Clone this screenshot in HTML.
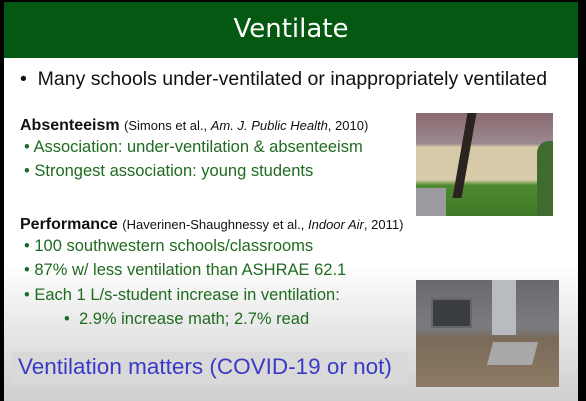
<!DOCTYPE html>
<html><head><meta charset="utf-8"><style>
body{margin:0;width:586px;height:401px;background:#000;overflow:hidden;font-family:"Liberation Sans",sans-serif;position:relative}
.slide{position:absolute;left:4px;top:2px;width:574px;height:399px;background:linear-gradient(#fff 0,#fff 262px,#e6e6e6 330px,#cfcfcf 399px)}
.hdr{position:absolute;left:0;top:0;width:574px;height:56px;background:#055812;color:#fff;font-size:26px;text-align:center;line-height:54px;font-family:"DejaVu Sans","Liberation Sans",sans-serif}
.t{position:absolute;white-space:nowrap;color:#111}
.g{color:#1f6b1f;font-size:16.5px}
.ph{position:absolute;overflow:hidden}
</style></head><body>
<div class="slide">
<div class="hdr">Ventilate</div>
<div class="t" style="left:16px;top:66px;font-size:19.5px">•&nbsp;&nbsp;Many schools under-ventilated or inappropriately ventilated</div>
<div class="t" style="left:16px;top:115px;font-size:16px"><b>Absenteeism</b> <span style="font-size:13px">(Simons et al., <i>Am. J. Public Health</i>, 2010)</span></div>
<div class="t g" style="left:20px;top:136px">• Association: under-ventilation &amp; absenteeism</div>
<div class="t g" style="left:20px;top:160px">• Strongest association: young students</div>
<div class="t" style="left:16px;top:214px;font-size:16px"><b>Performance</b> <span style="font-size:13px">(Haverinen-Shaughnessy et al., <i>Indoor Air</i>, 2011)</span></div>
<div class="t g" style="left:20px;top:235px">• 100 southwestern schools/classrooms</div>
<div class="t g" style="left:20px;top:259px">• 87% w/ less ventilation than ASHRAE 62.1</div>
<div class="t g" style="left:20px;top:284px">• Each 1 L/s-student increase in ventilation:</div>
<div class="t g" style="left:60px;top:308px">•&nbsp;&nbsp;2.9% increase math; 2.7% read</div>
<div style="position:absolute;left:8px;top:350px;width:396px;height:33px;background:#d9d9d9"></div>
<div class="t" style="left:14px;top:352px;font-size:22.5px;color:#3a3ac8">Ventilation matters (COVID-19 or not)</div>
<div class="ph" style="left:412px;top:111px;width:137px;height:103px;background:linear-gradient(#8a6a70 0,#9a8a90 30%,#d6c9a8 33%,#d8ccaa 65%,#4f8a30 70%,#3f7a28 100%)">
<div style="position:absolute;left:0;top:75px;width:30px;height:28px;background:#9a9aa0"></div>
<div style="position:absolute;left:44px;top:0;width:9px;height:85px;background:#2a2320;transform:skewX(-10deg)"></div>
<div style="position:absolute;right:0;top:28px;width:16px;height:75px;background:#3f6b2f;border-radius:12px 0 0 0"></div>
</div>
<div class="ph" style="left:412px;top:278px;width:143px;height:107px;background:linear-gradient(#6a6a6e 0,#7b7b80 45%,#7a6a58 55%,#8c7a64 100%)">
<div style="position:absolute;left:15px;top:18px;width:37px;height:26px;background:#3a3d42;border:2px solid #666"></div>
<div style="position:absolute;left:76px;top:0;width:24px;height:55px;background:#b8bcc0"></div>
<div style="position:absolute;left:74px;top:62px;width:45px;height:23px;background:#a8a8a8;transform:skewX(-15deg)"></div>
</div>
</div>
</body></html>
